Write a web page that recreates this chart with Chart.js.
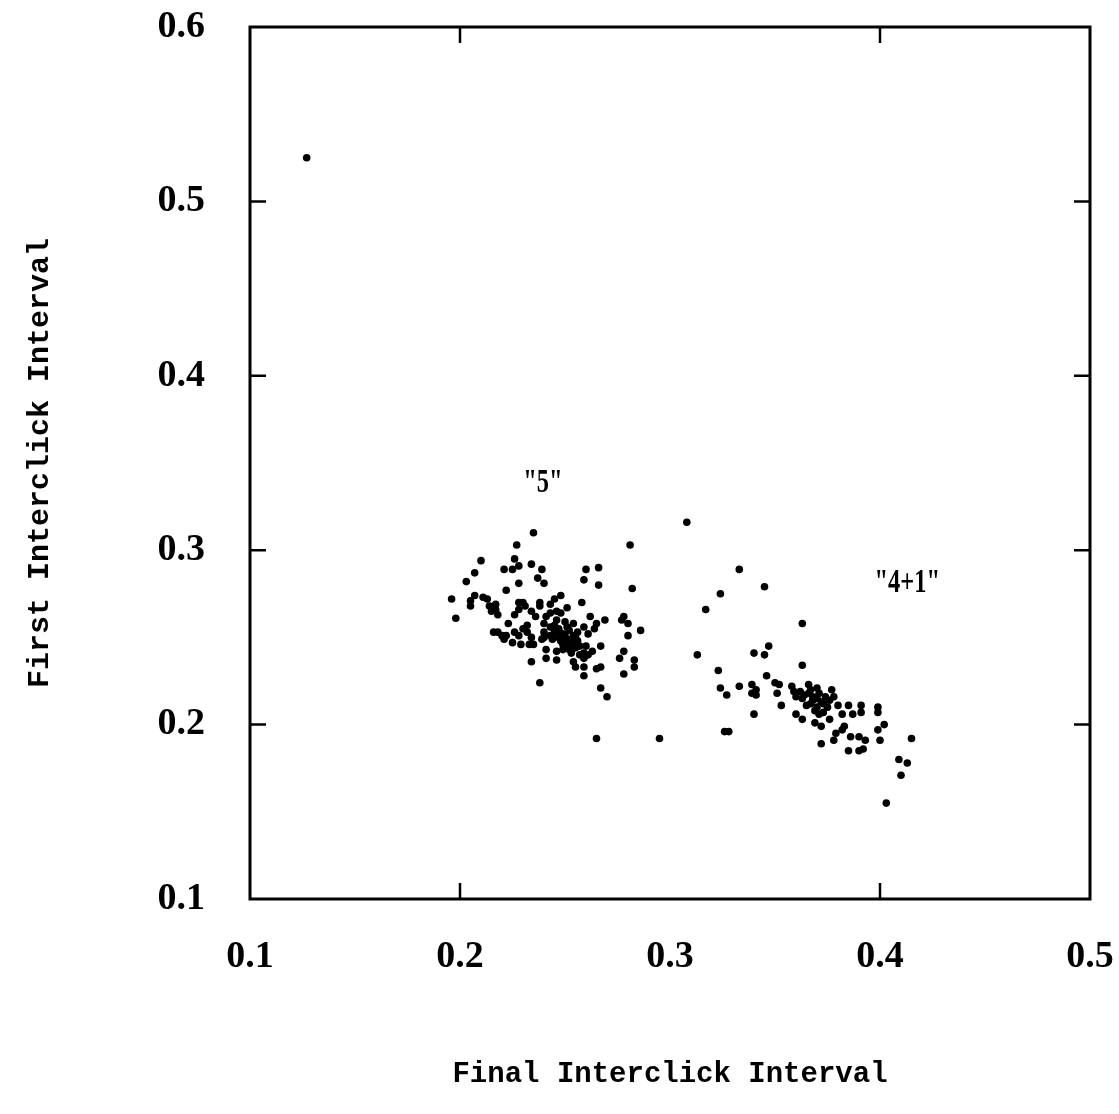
<!DOCTYPE html>
<html>
<head>
<meta charset="utf-8">
<script src="https://cdn.jsdelivr.net/npm/chart.js@4/dist/chart.umd.min.js"></script>
<style>
  html, body { margin:0; padding:0; background:#fff; }
  #wrap { width:1119px; height:1114px; }
</style>
</head>
<body>
<div id="wrap"><canvas id="clicks" width="1119" height="1114"></canvas></div>
<script>
// Final vs first interclick interval (s), one point per coda
const codaFinal = [
  0.127,
  // "5" group
  0.235,0.227,0.210,0.207,0.203,0.196,0.198,0.226,0.228,0.221,0.225,0.234,0.239,0.237,0.240,0.228,0.222,
  0.260,0.266,0.259,0.266,0.281,0.282,0.308,0.265,0.295,0.238,0.234,0.267,0.270,0.259,0.255,0.259,0.265,
  0.267,0.278,0.283,0.283,0.276,0.278,0.280,0.286,0.280,0.278,0.277,0.269,0.265,0.264,0.267,0.263,0.260,
  0.259,0.258,0.251,0.248,0.245,0.243,0.238,0.238,0.228,0.230,0.211,0.213,0.207,0.205,0.205,0.214,0.217,
  0.217,0.218,0.215,0.223,0.216,0.218,0.220,0.221,0.225,0.226,0.229,0.233,0.235,0.228,0.230,0.232,0.232,
  0.226,0.228,0.231,0.234,0.236,0.239,0.240,0.240,0.241,0.243,0.246,0.248,0.241,0.243,0.245,0.247,0.248,
  0.244,0.246,0.249,0.251,0.253,0.255,0.251,0.254,0.256,0.250,0.247,0.250,0.253,0.255,0.257,0.259,0.261,
  0.259,0.261,0.222,0.234,0.240,0.241,0.246,0.254,0.252,0.262,
  0.245,0.247,0.249,0.251,0.252,0.254,0.256,0.243,0.249,0.252,0.257,0.246,
  // "4+1" group
  0.333,0.345,0.324,0.317,0.363,0.313,0.340,0.345,0.347,0.363,0.323,0.346,0.324,0.327,0.333,0.339,0.341,
  0.339,0.341,0.340,0.328,0.326,0.350,0.352,0.351,0.353,0.358,0.359,0.360,0.366,0.367,0.377,0.378,0.380,
  0.382,0.385,0.387,0.391,0.391,0.399,0.399,0.360,0.363,0.369,0.372,0.376,0.372,0.378,0.379,0.382,0.383,
  0.386,0.390,0.393,0.390,0.385,0.392,0.399,0.402,0.400,0.415,0.409,0.413,0.410,0.403,
  0.366,0.368,0.370,0.367,0.370,0.373,0.371,0.374,0.369,0.363,0.365,0.375,0.373,0.370,0.362,
  0.372,0.368,0.376,0.364,0.371
];
const codaFirst = [
  0.525,
  0.310,0.303,0.294,0.287,0.282,0.272,0.261,0.295,0.291,0.289,0.289,0.292,0.289,0.284,0.281,0.281,0.277,
  0.289,0.290,0.283,0.280,0.303,0.278,0.316,0.192,0.192,0.224,0.236,0.221,0.216,0.228,0.233,0.233,0.232,
  0.233,0.229,0.237,0.233,0.238,0.242,0.251,0.254,0.258,0.262,0.260,0.260,0.258,0.255,0.245,0.242,0.245,
  0.241,0.270,0.267,0.274,0.272,0.269,0.270,0.268,0.270,0.270,0.273,0.272,0.274,0.271,0.268,0.268,0.269,
  0.266,0.263,0.265,0.258,0.253,0.253,0.251,0.249,0.247,0.253,0.246,0.246,0.246,0.251,0.255,0.257,0.253,
  0.263,0.266,0.268,0.265,0.262,0.249,0.253,0.258,0.262,0.264,0.265,0.264,0.243,0.256,0.253,0.250,0.248,
  0.249,0.242,0.243,0.245,0.247,0.250,0.256,0.258,0.253,0.251,0.255,0.259,0.241,0.244,0.240,0.238,0.240,
  0.256,0.252,0.251,0.250,0.250,0.238,0.237,0.236,0.244,0.262,
  0.257,0.254,0.252,0.249,0.254,0.251,0.248,0.251,0.246,0.243,0.245,0.260,
  0.289,0.279,0.275,0.266,0.258,0.240,0.241,0.240,0.245,0.234,0.231,0.228,0.221,0.217,0.222,0.223,0.220,
  0.218,0.217,0.206,0.196,0.196,0.224,0.223,0.218,0.211,0.222,0.219,0.216,0.223,0.220,0.220,0.216,0.211,
  0.206,0.211,0.206,0.211,0.207,0.210,0.207,0.206,0.203,0.201,0.199,0.203,0.189,0.191,0.195,0.197,0.199,
  0.193,0.193,0.191,0.185,0.185,0.186,0.197,0.200,0.191,0.192,0.180,0.178,0.171,0.155,
  0.218,0.216,0.215,0.212,0.210,0.212,0.218,0.216,0.208,0.215,0.211,0.210,0.207,0.221,0.219,
  0.213,0.214,0.214,0.217,0.206
];
const groupLabels = ['"5"', '"4+1"'];
const groupLabelX = [0.2395, 0.413];
const groupLabelY = [0.3385, 0.281];

const xTicks = [0.1, 0.2, 0.3, 0.4, 0.5];
const yTicks = [0.1, 0.2, 0.3, 0.4, 0.5, 0.6];
const xMarks = [0.2, 0.4];          // inner tick marks on top/bottom
const yMarks = [0.2, 0.3, 0.4, 0.5]; // inner tick marks on left/right

const points = codaFinal.map((x, i) => ({ x, y: codaFirst[i] }));

const SERIF = '"Liberation Serif", "Times New Roman", serif';
const MONO = '"Liberation Mono", "Courier New", monospace';

// keep the plot box fixed: no extra room for labels hanging past the ends
function noOverhang(s) {
  s.paddingLeft = s.paddingRight = s.paddingTop = s.paddingBottom = 0;
}

// box frame, inward tick marks and the group captions
const framePlugin = {
  id: 'frame',
  afterDatasetsDraw(chart) {
    const { ctx, chartArea: a, scales: { x, y } } = chart;
    ctx.save();
    ctx.strokeStyle = '#000';
    ctx.lineWidth = 3;
    ctx.strokeRect(a.left, a.top, a.right - a.left, a.bottom - a.top);
    const len = 16;
    ctx.lineWidth = 2.5;
    ctx.beginPath();
    xMarks.forEach(v => {
      const px = x.getPixelForValue(v);
      ctx.moveTo(px, a.bottom); ctx.lineTo(px, a.bottom - len);
      ctx.moveTo(px, a.top); ctx.lineTo(px, a.top + len);
    });
    yMarks.forEach(v => {
      const py = y.getPixelForValue(v);
      ctx.moveTo(a.left, py); ctx.lineTo(a.left + len, py);
      ctx.moveTo(a.right, py); ctx.lineTo(a.right - len, py);
    });
    ctx.stroke();

    ctx.fillStyle = '#000';
    ctx.textAlign = 'center';
    ctx.textBaseline = 'middle';
    ctx.font = 'bold 34px ' + SERIF;
    groupLabels.forEach((t, i) => {
      ctx.save();
      ctx.translate(x.getPixelForValue(groupLabelX[i]), y.getPixelForValue(groupLabelY[i]));
      ctx.scale(0.72, 1);
      ctx.fillText(t, 0, 0);
      ctx.restore();
    });
    ctx.restore();
  }
};

new Chart(document.getElementById('clicks'), {
  type: 'scatter',
  data: {
    datasets: [{
      data: points,
      backgroundColor: '#000',
      borderWidth: 0,
      pointRadius: 3.8,
      pointHoverRadius: 3.8
    }]
  },
  options: {
    responsive: false,
    animation: false,
    layout: { padding: { left: 0, top: 27, right: 29, bottom: 0 } },
    plugins: { legend: { display: false }, tooltip: { enabled: false } },
    scales: {
      x: {
        type: 'linear', min: 0.1, max: 0.5,
        afterBuildTicks: s => { s.ticks = xTicks.map(v => ({ value: v })); },
        afterFit: s => { s.height = 215; noOverhang(s); },
        grid: { display: false, drawTicks: false },
        border: { display: false },
        ticks: {
          padding: 35, color: '#000',
          font: { family: SERIF, size: 38, weight: 'bold' },
          callback: v => v.toFixed(1),
          maxRotation: 0, autoSkip: false
        },
        title: {
          display: true, text: 'Final Interclick Interval', color: '#000',
          font: { family: MONO, size: 29, weight: 'bold' },
          padding: { top: 0, bottom: 22 }
        }
      },
      y: {
        type: 'linear', min: 0.1, max: 0.6,
        afterBuildTicks: s => { s.ticks = yTicks.map(v => ({ value: v })); },
        afterFit: s => { s.width = 250; noOverhang(s); },
        grid: { display: false, drawTicks: false },
        border: { display: false },
        ticks: {
          padding: 45, color: '#000',
          font: { family: SERIF, size: 38, weight: 'bold' },
          callback: v => v.toFixed(1),
          autoSkip: false
        },
        title: {
          display: true, text: 'First Interclick Interval', color: '#000',
          font: { family: MONO, size: 30, weight: 'bold' },
          padding: { top: 22, bottom: 0 }
        }
      }
    }
  },
  plugins: [framePlugin]
});
</script>
</body>
</html>
